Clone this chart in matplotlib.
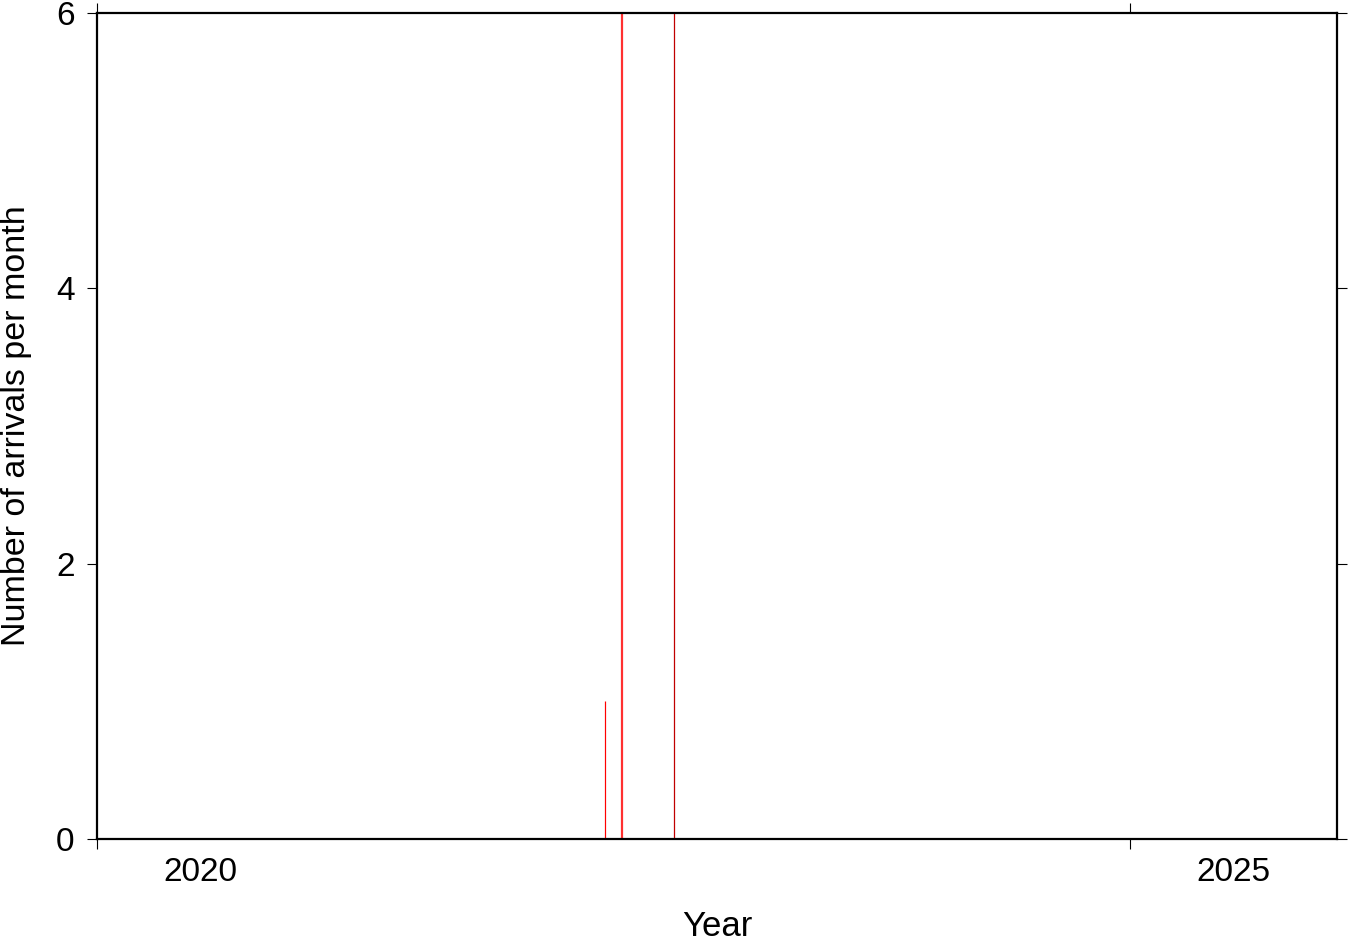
import numpy as np
import matplotlib.pyplot as plt

plt.rcParams['font.family'] = ['Liberation Sans', 'DejaVu Sans']

# monthly arrival counts (decimal year of month centre)
months = [2022.458, 2022.542]
counts = [1, 7]
bar_widths = [1.2, 2.2]
bar_colors = ['#ff0000', '#ff3030']

# marker month
marker_month = 2022.79

year_ticks = [2020, 2025]
year_labels = ['2020', '2025']

fig = plt.figure(figsize=(13.5, 9.42), dpi=100)
ax = fig.add_axes([97 / 1350, (942 - 839) / 942, (1337 - 97) / 1350, (839 - 13) / 942])

for m, c, w, col in zip(months, counts, bar_widths, bar_colors):
    ax.vlines(m, 0, c, color=col, lw=w * 0.72)
ax.axvline(marker_month, color='#c00000', lw=0.9)

ax.set_xlim(2020, 2026)
ax.set_ylim(0, 6)

ax.set_xticks(year_ticks)
ax.set_xticklabels([])
ax.set_xticks([y + 0.5 for y in year_ticks], minor=True)
ax.set_xticklabels(year_labels, minor=True)
ax.tick_params(axis='x', which='minor', length=0, labelsize=24, pad=13)
ax.set_yticks([0, 2, 4, 6])
ax.tick_params(which='major', direction='out', length=7.2, width=0.8,
               top=True, right=True, labelsize=24, pad=8)
ax.tick_params(axis='y', pad=9)

for s in ax.spines.values():
    s.set_linewidth(1.6)

ax.set_xlabel('Year', fontsize=25, labelpad=16)
ax.set_ylabel('Number of arrivals per month', fontsize=24.5, labelpad=17)

fig.savefig('out.png', dpi=100)
